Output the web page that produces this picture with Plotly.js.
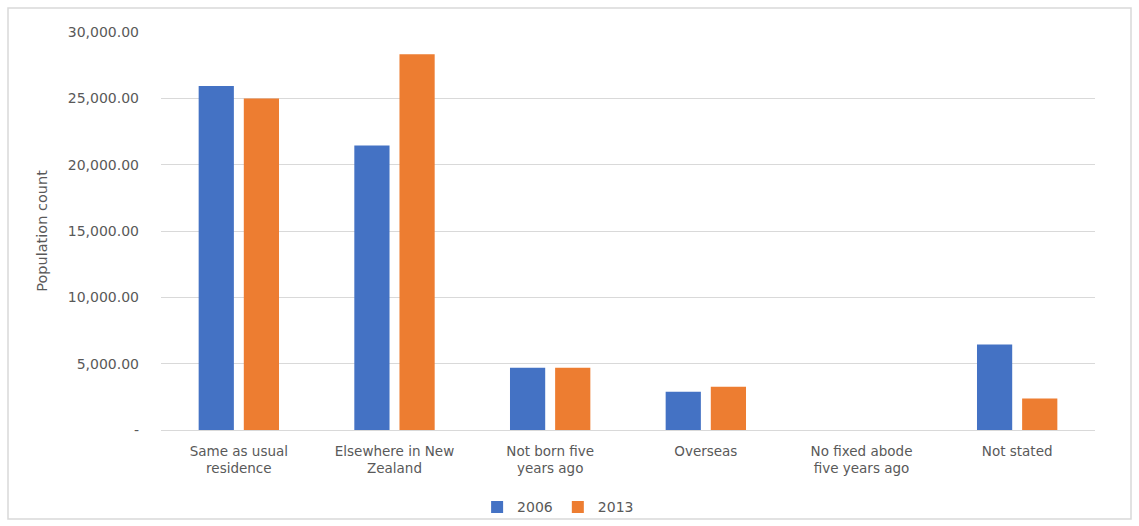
<!DOCTYPE html>
<html>
<head>
<meta charset="utf-8">
<script src="https://cdn.plot.ly/plotly-3.0.1.min.js"></script>
<style>
html,body{margin:0;padding:0;background:#fff;}
#chart{width:1139px;height:526px;}
</style>
</head>
<body>
<div id="chart"></div>
<script>
const categories = ["Same as usual<br>residence", "Elsewhere in New<br>Zealand", "Not born five<br>years ago", "Overseas", "No fixed abode<br>five years ago", "Not stated"];
const values2006 = [25930, 21440, 4700, 2880, 0, 6440];
const values2013 = [24990, 28330, 4700, 3260, 0, 2380];
const seriesNames = ["2006", "2013"];
const yTickVals = [0, 5000, 10000, 15000, 20000, 25000, 30000];
const yTickText = ["-", "5,000.00", "10,000.00", "15,000.00", "20,000.00", "25,000.00", "30,000.00"];

const font = "DejaVu Sans, sans-serif";
const grey = "#595959";

const data = [
  {type: "bar", name: seriesNames[0], x: categories, y: values2006, marker: {color: "#4472C4"}, hoverinfo: "skip"},
  {type: "bar", name: seriesNames[1], x: categories, y: values2013, marker: {color: "#ED7D31"}, hoverinfo: "skip"}
];

const L = 161, R = 44, T = 32, B = 96, W = 1139, H = 526;
const pw = W - L - R, ph = H - T - B;
const px = v => (v - L) / pw;
const py = v => (H - B - v) / ph;

const layout = {
  width: W, height: H,
  margin: {l: L, r: R, t: T, b: B, pad: 0},
  paper_bgcolor: "#fff", plot_bgcolor: "#fff",
  barmode: "group", bargap: 0.42, bargroupgap: 0.22,
  font: {family: font, color: grey, size: 13},
  xaxis: {
    type: "category", showgrid: false, zeroline: false, showline: false,
    ticks: "", tickfont: {family: font, size: 13.5, color: grey},
    ticklabelstandoff: 11
  },
  yaxis: {
    range: [0, 30000], tickvals: yTickVals, ticktext: yTickText,
    showgrid: true, gridcolor: "#d9d9d9", gridwidth: 1,
    zeroline: true, zerolinecolor: "#d9d9d9", zerolinewidth: 1,
    showline: false, ticks: "", ticklabelstandoff: 21,
    tickfont: {family: font, size: 14, color: grey},
    title: {text: "Population count", font: {family: font, size: 14.5, color: grey}, standoff: 16}
  },
  showlegend: true,
  legend: {
    orientation: "h", xref: "container", yref: "container",
    x: 0.49, xanchor: "center", y: 0.005, yanchor: "bottom",
    bgcolor: "rgba(0,0,0,0)",
    font: {family: font, size: 14, color: grey},
    itemwidth: 30, traceorder: "normal"
  },
  shapes: [{
    type: "rect", xref: "paper", yref: "paper",
    x0: px(8), x1: px(1131), y0: py(519), y1: py(8),
    line: {color: "#d9d9d9", width: 1.5}, fillcolor: "rgba(0,0,0,0)", layer: "below"
  }]
};

Plotly.newPlot("chart", data, layout, {displayModeBar: false, staticPlot: true});
</script>
</body>
</html>
